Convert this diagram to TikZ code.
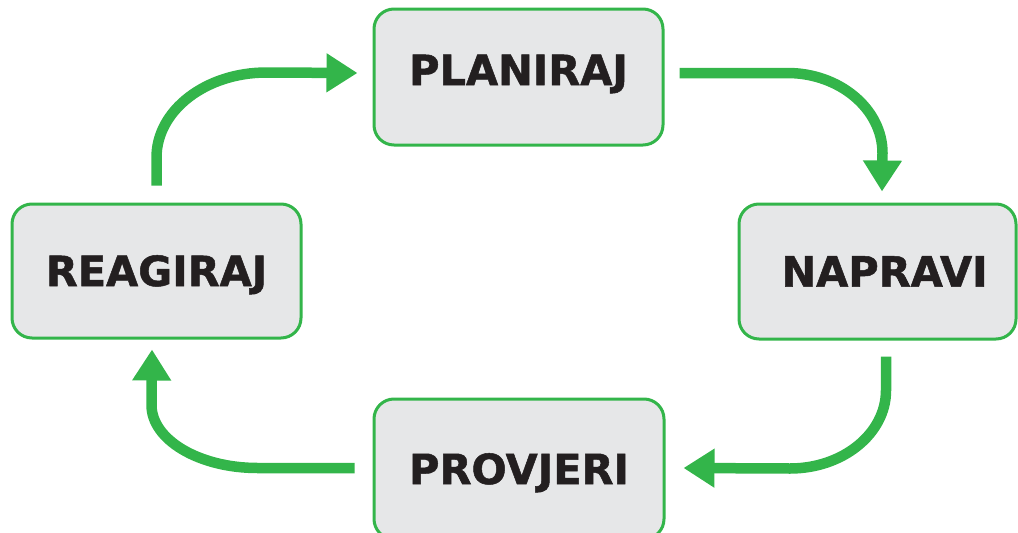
\documentclass[tikz,border=0pt]{standalone}
\usepackage{fontspec}
\usepackage{xcolor}
\usepackage{tikz}
\usetikzlibrary{arrows.meta}
\setmainfont{DejaVu Sans}[BoldFeatures={FakeBold=1.2}]

\definecolor{ciklus}{RGB}{51,181,74}
\definecolor{kutija}{RGB}{230,231,232}
\definecolor{tekst}{RGB}{35,31,32}

\begin{document}
\begin{tikzpicture}[x=1pt,y=-1pt,
  faza/.style={draw=ciklus, fill=kutija, line width=3pt, rounded corners=20pt,
    text=tekst, font=\fontsize{41.5}{45}\selectfont\bfseries,
    text height=30pt, text depth=0pt, inner sep=0pt},
  tok/.style={draw=ciklus, line width=10.5pt,
    -{Triangle[width=37pt,length=31pt]}}]
\useasboundingbox (0,0) rectangle (1018,533);

\node[faza, minimum width=289pt, minimum height=136pt, text depth=14pt] (plan) at (518.5,77) {PLANIRAJ};
\node[faza, minimum width=277pt, minimum height=135pt] (napr) at (877.5,271.5) {\hspace*{14pt}NAPRAVI};
\node[faza, minimum width=290pt, minimum height=140pt] (prov) at (519,469) {PROVJERI};
\node[faza, minimum width=289pt, minimum height=134pt] (reag) at (156.5,271) {REAGIRAJ};

\draw[tok] ([yshift=17pt]reag.north) -- ++(0,-28)
  .. controls +(0,-47) and +(-61,0) .. ++(110,-85) -- ([xshift=-15pt,yshift=4pt]plan.west);
\draw[tok] ([xshift=15pt,yshift=4pt]plan.east) -- ++(108,0)
  .. controls +(52,0) and +(0,-44) .. ++(95,80) -- ([xshift=4.5pt,yshift=11pt]napr.north);
\draw[tok] ([xshift=8.5pt,yshift=-16pt]napr.south) -- ++(0,34)
  .. controls +(0,43) and +(53,0) .. ++(-96,78) -- ([xshift=18pt,yshift=1pt]prov.east);
\draw[tok] ([xshift=-18pt,yshift=1pt]prov.west) -- ++(-97,0)
  .. controls +(-58,0) and +(0,35) .. ++(-106,-63) -- ([xshift=-4.5pt,yshift=-10pt]reag.south);

\end{tikzpicture}
\end{document}
